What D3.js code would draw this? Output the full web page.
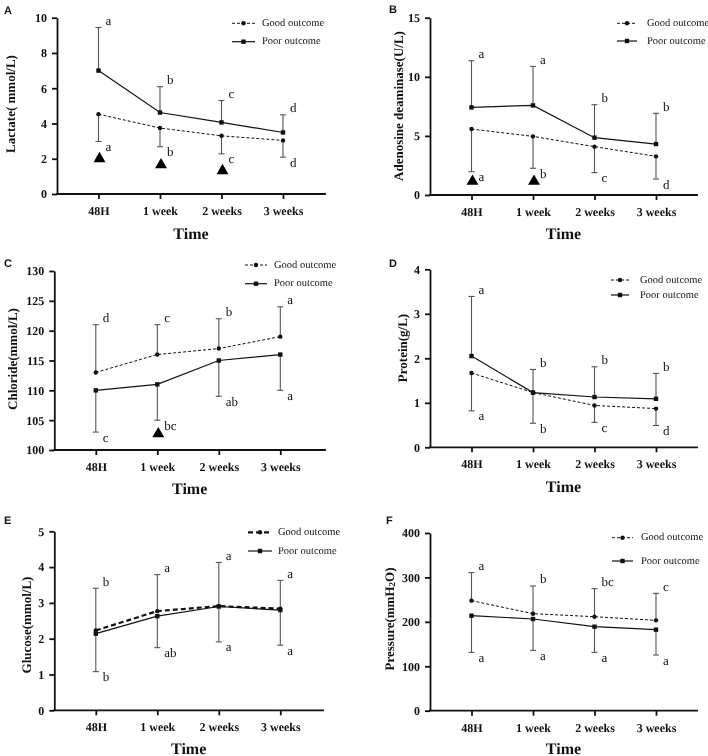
<!DOCTYPE html>
<html><head><meta charset="utf-8">
<script src="https://cdn.jsdelivr.net/npm/d3@7"></script>
<style>body{margin:0;background:#fff} svg{display:block;will-change:transform} text{text-rendering:geometricPrecision}</style>
</head><body>
<svg id="chart" width="708" height="756"></svg>
<script>
// ---------- DATA ----------
const timePoints = ["48H", "1 week", "2 weeks", "3 weeks"];
const seriesNames = ["Good outcome", "Poor outcome"];

// A: Lactate
const lactateTicks = [0, 2, 4, 6, 8, 10];
const lactateGood = [4.53, 3.74, 3.30, 3.04];
const lactateGoodSD = [1.55, 1.06, 1.02, 0.95];
const lactateGoodLetters = ["a", "b", "c", "d"];
const lactatePoor = [7.00, 4.62, 4.06, 3.49];
const lactatePoorSD = [2.45, 1.47, 1.24, 1.00];
const lactatePoorLetters = ["a", "b", "c", "d"];
const lactateSig = [2.0, 1.65, 1.32, null];

// B: Adenosine deaminase
const adaTicks = [0, 5, 10, 15];
const adaGood = [5.58, 4.96, 4.09, 3.27];
const adaGoodSD = [3.61, 2.70, 2.20, 1.92];
const adaGoodLetters = ["a", "b", "c", "d"];
const adaPoor = [7.41, 7.58, 4.85, 4.31];
const adaPoorSD = [3.95, 3.30, 2.79, 2.60];
const adaPoorLetters = ["a", "a", "b", "b"];
const adaSig = [1.15, 1.15, null, null];

// C: Chloride
const chlorideTicks = [100, 105, 110, 115, 120, 125, 130];
const chlorideGood = [113, 116, 117, 119];
const chlorideGoodSD = [8, 5, 5, 5];
const chlorideGoodLetters = ["d", "c", "b", "a"];
const chloridePoor = [110, 111, 115, 116];
const chloridePoorSD = [7, 6, 6, 6];
const chloridePoorLetters = ["c", "bc", "ab", "a"];
const chlorideSig = [null, 102.7, null, null];

// D: Protein
const proteinTicks = [0, 1, 2, 3, 4];
const proteinGood = [1.67, 1.23, 0.94, 0.87];
const proteinGoodSD = [0.85, 0.69, 0.38, 0.38];
const proteinGoodLetters = ["a", "b", "c", "d"];
const proteinPoor = [2.05, 1.23, 1.13, 1.09];
const proteinPoorSD = [1.34, 0.52, 0.68, 0.57];
const proteinPoorLetters = ["a", "b", "b", "b"];

// E: Glucose
const glucoseTicks = [0, 1, 2, 3, 4, 5];
const glucoseGood = [2.23, 2.77, 2.91, 2.84];
const glucoseGoodSD = [1.18, 1.02, 1.22, 0.79];
const glucoseGoodLetters = ["b", "a", "a", "a"];
const glucosePoor = [2.14, 2.63, 2.90, 2.80];
const glucosePoorSD = [1.06, 0.88, 0.99, 0.98];
const glucosePoorLetters = ["b", "ab", "a", "a"];

// F: Pressure
const pressureTicks = [0, 100, 200, 300, 400];
const pressureGood = [247.7, 218.4, 211.6, 203.4];
const pressureGoodSD = [63.3, 62.3, 63.1, 60.8];
const pressureGoodLetters = ["a", "b", "bc", "c"];
const pressurePoor = [213.9, 206.4, 189.1, 182.4];
const pressurePoorSD = [82.6, 70.6, 57.8, 57.1];
const pressurePoorLetters = ["a", "a", "a", "a"];

// ---------- PANELS ----------
const panels = [
  {tag:"A", title:["Lactate( mmol/L)"], ticks:lactateTicks,
   good:lactateGood, goodSD:lactateGoodSD, goodL:lactateGoodLetters,
   poor:lactatePoor, poorSD:lactatePoorSD, poorL:lactatePoorLetters, sig:lactateSig,
   L:{left:57, right:325, top:17.7, bottom:194, titleX:10, titleY:104, tagX:4, tagY:14,
      lx1:232, lx2:255, tx:262, ly1:23.3, ly2:41.7, timeY:238.5, goodDir:-1, boldDash:false}},
  {tag:"B", title:["Adenosine deaminase(U/L)"], ticks:adaTicks,
   good:adaGood, goodSD:adaGoodSD, goodL:adaGoodLetters,
   poor:adaPoor, poorSD:adaPoorSD, poorL:adaPoorLetters, sig:adaSig,
   L:{left:430, right:697, top:17.7, bottom:195, titleX:398, titleY:106, tagX:389, tagY:13,
      lx1:617, lx2:637, tx:647, ly1:23.3, ly2:41, timeY:238.5, goodDir:-1, boldDash:false}},
  {tag:"C", title:["Chloride(mmol/L)"], ticks:chlorideTicks,
   good:chlorideGood, goodSD:chlorideGoodSD, goodL:chlorideGoodLetters,
   poor:chloridePoor, poorSD:chloridePoorSD, poorL:chloridePoorLetters, sig:chlorideSig,
   L:{left:54.3, right:325, top:271, bottom:450, titleX:12, titleY:359, tagX:4, tagY:267,
      lx1:245, lx2:267, tx:274, ly1:265, ly2:283.7, timeY:493.5, goodDir:1, boldDash:false}},
  {tag:"D", title:["Protein(g/L)"], ticks:proteinTicks,
   good:proteinGood, goodSD:proteinGoodSD, goodL:proteinGoodLetters,
   poor:proteinPoor, poorSD:proteinPoorSD, poorL:proteinPoorLetters, sig:null,
   L:{left:430, right:697, top:269.3, bottom:447.3, titleX:402, titleY:348, tagX:389, tagY:267,
      lx1:611, lx2:629, tx:640, ly1:280, ly2:295, timeY:491.5, goodDir:-1, boldDash:false}},
  {tag:"E", title:["Glucose(mmol/L)"], ticks:glucoseTicks,
   good:glucoseGood, goodSD:glucoseGoodSD, goodL:glucoseGoodLetters,
   poor:glucosePoor, poorSD:glucosePoorSD, poorL:glucosePoorLetters, sig:null,
   L:{left:54.3, right:323, top:531.3, bottom:710.3, titleX:26, titleY:625, tagX:4, tagY:524,
      lx1:248, lx2:272, tx:278, ly1:532.3, ly2:551, timeY:753.5, goodDir:1, boldDash:true}},
  {tag:"F", title:["Pressure(mmH", "2", "O)"], ticks:pressureTicks,
   good:pressureGood, goodSD:pressureGoodSD, goodL:pressureGoodLetters,
   poor:pressurePoor, poorSD:pressurePoorSD, poorL:pressurePoorLetters, sig:null,
   L:{left:430, right:697, top:533, bottom:710.7, titleX:389, titleY:619, tagX:386, tagY:524,
      lx1:612, lx2:633, tx:641, ly1:537.7, ly2:561, timeY:753.5, goodDir:1, boldDash:false}}
];

const SERIF = "'Liberation Serif','Times New Roman',Times,serif";
const SANS = "'Liberation Sans',Arial,Helvetica,sans-serif";
const svg = d3.select("#chart");
svg.append("rect").attr("width",708).attr("height",756).attr("fill","#fff");

function drawPanel(p) {
  const L = p.L;
  const g = svg.append("g");
  const x = d3.scalePoint().domain(timePoints).range([L.left + 41.5, L.left + 226]);
  const yd = d3.extent(p.ticks);
  const y = d3.scaleLinear().domain(yd).range([L.bottom, L.top]);

  // axes
  const ya = g.append("g").attr("transform", `translate(${L.left},0)`)
    .call(d3.axisLeft(y).tickValues(p.ticks).tickSize(5).tickSizeOuter(0).tickPadding(5).tickFormat(d3.format("d")));
  const xa = g.append("g").attr("transform", `translate(0,${L.bottom})`)
    .call(d3.axisBottom(x).tickSize(5).tickSizeOuter(0).tickPadding(7.5));
  xa.select(".domain").remove();
  [ya, xa].forEach(a => {
    a.selectAll("path,line").attr("stroke", "#111").attr("stroke-width", 1.8);
    a.selectAll("text").attr("font-family", SERIF).attr("font-weight", "bold")
      .attr("font-size", 12).attr("fill", "#111");
  });
  g.append("line").attr("x1", L.left).attr("x2", L.right)
    .attr("y1", L.bottom).attr("y2", L.bottom)
    .attr("stroke", "#111").attr("stroke-width", 1.8).attr("stroke-linecap", "square");

  // axis titles
  g.append("text").attr("x", (L.left + L.right) / 2).attr("y", L.timeY)
    .attr("text-anchor", "middle").attr("font-family", SERIF).attr("font-weight", "bold")
    .attr("font-size", 16).attr("fill", "#111").text("Time");
  const yt = g.append("text")
    .attr("transform", `translate(${L.titleX},${L.titleY}) rotate(-90)`)
    .attr("text-anchor", "middle").attr("dominant-baseline", "central")
    .attr("font-family", SERIF).attr("font-weight", "bold").attr("font-size", 13).attr("fill", "#111");
  if (p.title.length === 1) yt.text(p.title[0]);
  else {
    yt.append("tspan").text(p.title[0]);
    yt.append("tspan").attr("font-size", 9).attr("dy", 3).text(p.title[1]);
    yt.append("tspan").attr("dy", -3).text(p.title[2]);
  }
  // panel tag
  g.append("text").attr("x", L.tagX).attr("y", L.tagY).attr("font-family", SANS)
    .attr("font-weight", "bold").attr("font-size", 11).attr("fill", "#111").text(p.tag);

  const series = [
    {vals: p.good, sd: p.goodSD, letters: p.goodL, dir: L.goodDir, good: true},
    {vals: p.poor, sd: p.poorSD, letters: p.poorL, dir: -L.goodDir, good: false}
  ];
  const ebColor = "#555";
  // error bars + letters
  series.forEach(s => {
    s.vals.forEach((v, i) => {
      const cx = x(timePoints[i]);
      const end = v + s.dir * s.sd[i];
      g.append("line").attr("x1", cx).attr("x2", cx).attr("y1", y(v)).attr("y2", y(end))
        .attr("stroke", ebColor).attr("stroke-width", 1.1);
      g.append("line").attr("x1", cx - 3).attr("x2", cx + 3).attr("y1", y(end)).attr("y2", y(end))
        .attr("stroke", ebColor).attr("stroke-width", 1.1);
      g.append("text").attr("x", cx + 7).attr("y", y(end) + (s.dir > 0 ? -7 : 5))
        .attr("dominant-baseline", "central").attr("font-family", SERIF)
        .attr("font-size", 13).attr("fill", "#111").text(s.letters[i]);
    });
  });
  // lines
  const line = d3.line().x((d, i) => x(timePoints[i])).y(d => y(d));
  series.forEach(s => {
    const path = g.append("path").attr("d", line(s.vals)).attr("fill", "none").attr("stroke", "#111");
    if (s.good) {
      if (L.boldDash) path.attr("stroke-width", 2.2).attr("stroke-dasharray", "5,3");
      else path.attr("stroke-width", 1).attr("stroke-dasharray", "3,2");
    } else path.attr("stroke-width", 1.2);
  });
  // markers
  series.forEach(s => {
    s.vals.forEach((v, i) => {
      const cx = x(timePoints[i]);
      if (s.good) g.append("circle").attr("cx", cx).attr("cy", y(v)).attr("r", 2.2).attr("fill", "#111");
      else g.append("rect").attr("x", cx - 2.2).attr("y", y(v) - 2.2).attr("width", 4.4).attr("height", 4.4).attr("fill", "#111");
    });
  });
  // significance triangles
  if (p.sig) {
    p.sig.forEach((v, i) => {
      if (v == null) return;
      g.append("path").attr("d", d3.symbol(d3.symbolTriangle, 62)())
        .attr("transform", `translate(${x(timePoints[i]) + 1},${y(v)})`).attr("fill", "#000");
    });
  }
  // legend
  [[L.ly1, true], [L.ly2, false]].forEach(([ly, good], k) => {
    const ln = g.append("line").attr("x1", L.lx1).attr("x2", L.lx2).attr("y1", ly).attr("y2", ly).attr("stroke", "#111");
    const mx = (L.lx1 + L.lx2) / 2;
    if (good) {
      if (L.boldDash) ln.attr("stroke-width", 2.2).attr("stroke-dasharray", "5,3");
      else ln.attr("stroke-width", 1).attr("stroke-dasharray", "3,2");
      g.append("circle").attr("cx", mx).attr("cy", ly).attr("r", 2.2).attr("fill", "#111");
    } else {
      ln.attr("stroke-width", 1.2);
      g.append("rect").attr("x", mx - 2.2).attr("y", ly - 2.2).attr("width", 4.4).attr("height", 4.4).attr("fill", "#111");
    }
    g.append("text").attr("x", L.tx).attr("y", ly).attr("dominant-baseline", "central")
      .attr("font-family", SERIF).attr("font-size", 10.5).attr("fill", "#111").text(seriesNames[k]);
  });
}
panels.forEach(drawPanel);
</script>
</body></html>
